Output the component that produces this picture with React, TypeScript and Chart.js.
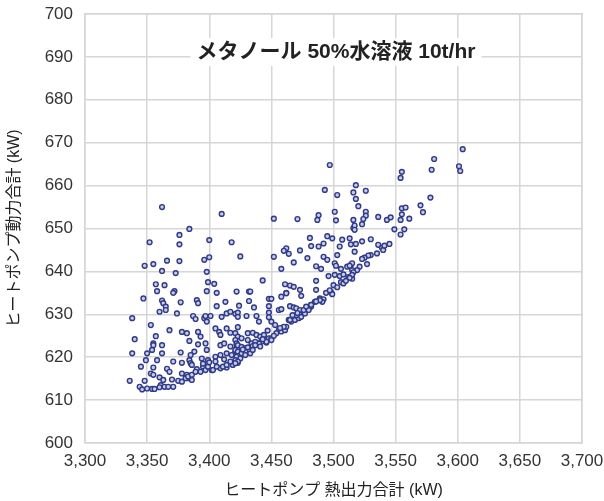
import React, { useEffect, useRef } from "react";
import { Chart, registerables } from "chart.js";

Chart.register(...registerables);

const CHART_TITLE = "メタノール 50%水溶液 10t/hr";
const X_TITLE = "ヒートポンプ 熱出力合計 (kW)";
const Y_TITLE = "ヒートポンプ動力合計 (kW)";
const X_RANGE = [3300, 3700, 50];
const Y_RANGE = [600, 700, 10];

// [heat output kW, pump power kW]
const UPPER_SCATTER: [number, number][] = [
  [3362, 655.0], [3410, 653.4], [3384, 649.9], [3376, 648.5], [3352, 646.8], [3400, 647.3],
  [3418, 646.8], [3376, 646.3], [3366, 642.5], [3376, 642.4], [3396, 642.7], [3400, 643.3],
  [3355, 641.7], [3348, 641.3], [3362, 640.1], [3373, 639.6], [3398, 639.9], [3357, 637.0],
  [3364, 636.8], [3399, 637.5], [3404, 637.1], [3358, 635.4], [3372, 635.4], [3371, 635.0],
  [3398, 635.4], [3406, 635.0], [3422, 635.3], [3425, 643.5],
  [3452, 652.3], [3471, 652.2], [3488, 653.1], [3487, 652.0], [3501, 653.9], [3502, 651.9],
  [3503, 657.8], [3516, 652.0], [3516, 650.1], [3481, 647.8], [3495, 648.2], [3499, 647.7],
  [3507, 647.4], [3513, 647.7], [3514, 646.3], [3482, 645.9], [3488, 645.8], [3492, 646.5],
  [3505, 645.8], [3462, 645.4], [3460, 644.8], [3473, 644.9], [3464, 644.1], [3452, 643.4],
  [3479, 643.1], [3492, 643.4], [3495, 642.7], [3503, 643.8], [3468, 642.1], [3486, 641.2],
  [3490, 640.6], [3501, 641.9], [3502, 641.3], [3506, 640.6], [3511, 641.1], [3514, 641.5],
  [3515, 640.3], [3458, 640.6], [3496, 638.9], [3501, 639.2], [3505, 638.9], [3508, 639.3],
  [3512, 638.7], [3515, 638.3], [3443, 637.9], [3461, 637.0], [3465, 636.7], [3468, 636.4],
  [3486, 637.8], [3500, 636.8], [3506, 637.5], [3473, 635.7], [3462, 635.0], [3486, 635.7],
  [3498, 635.1], [3432, 635.3], [3497, 664.8], [3493, 659.0],
];

const RIGHT_SCATTER: [number, number][] = [
  [3604, 668.5], [3581, 666.2], [3579, 663.7], [3601, 664.5], [3602, 663.4], [3555, 663.2],
  [3554, 661.8], [3518, 660.1], [3516, 658.4], [3526, 658.8], [3518, 656.9], [3520, 655.2],
  [3578, 657.2], [3570, 655.4], [3572, 653.8], [3555, 654.7], [3558, 654.9], [3526, 653.9],
  [3526, 653.0], [3524, 652.2], [3555, 653.3], [3536, 652.7], [3543, 652.0], [3546, 652.6],
  [3554, 652.0], [3561, 652.3], [3523, 651.0], [3517, 650.7], [3517, 649.7], [3557, 649.8],
  [3549, 649.8], [3554, 648.6], [3530, 647.5], [3523, 647.0], [3518, 646.4], [3517, 644.6],
  [3536, 646.2], [3539, 645.5], [3540, 645.0], [3541, 646.0], [3545, 646.4], [3535, 644.2],
  [3530, 643.8], [3528, 643.7], [3525, 643.2], [3523, 642.9], [3527, 641.7], [3521, 641.1],
  [3519, 640.3], [3516, 639.8], [3515, 639.2], [3513, 638.5], [3515, 641.9], [3513, 641.3],
];

const LOWER_LEFT: [number, number][] = [
  [3347, 633.7], [3362, 633.2], [3363, 632.6], [3377, 632.8], [3390, 633.3], [3391, 632.6],
  [3406, 631.9], [3413, 632.9], [3365, 631.8], [3365, 631.0], [3360, 630.6], [3374, 630.2],
  [3387, 629.6], [3389, 628.9], [3396, 629.1], [3397, 629.6], [3398, 628.3], [3401, 629.6],
  [3410, 629.4], [3414, 630.2], [3417, 630.6], [3421, 630.1], [3423, 630.4], [3338, 629.1],
  [3353, 627.5], [3368, 626.3], [3378, 625.9], [3382, 625.6], [3391, 625.9], [3393, 624.8],
  [3405, 626.7], [3408, 625.9], [3409, 625.2], [3414, 626.7], [3417, 625.7], [3421, 625.6],
  [3423, 624.8], [3357, 624.9], [3340, 624.2], [3384, 623.8], [3355, 623.2], [3355, 622.8],
  [3362, 622.8], [3391, 623.0], [3397, 623.2], [3398, 621.7], [3409, 622.8], [3412, 623.2],
  [3417, 622.5], [3422, 622.8], [3354, 621.7], [3338, 620.9], [3350, 620.9], [3362, 620.9],
  [3377, 621.1], [3388, 621.3], [3405, 620.1], [3409, 620.5], [3414, 620.9], [3421, 621.3],
  [3385, 620.5], [3384, 619.3], [3385, 618.6], [3358, 619.3], [3349, 619.3], [3371, 619.0],
  [3378, 618.7], [3394, 619.7], [3399, 619.3], [3405, 619.0], [3345, 617.8], [3355, 617.6],
  [3366, 617.3], [3368, 616.6], [3386, 618.2], [3390, 617.2], [3395, 617.8], [3402, 617.0],
  [3409, 617.4], [3414, 617.6], [3419, 618.2], [3423, 618.7], [3353, 616.2], [3355, 615.9],
  [3378, 616.2], [3382, 615.9], [3383, 615.1], [3386, 614.7], [3336, 614.5], [3348, 614.5],
  [3360, 615.3], [3363, 614.7], [3361, 613.5], [3370, 614.8], [3375, 614.5], [3344, 613.1],
  [3346, 612.5], [3350, 612.7], [3354, 612.6], [3356, 612.6], [3360, 613.0], [3364, 613.1],
  [3367, 613.1], [3371, 613.1],
];

const LOWER_MID: [number, number][] = [
  [3433, 635.3], [3448, 633.6], [3450, 633.6], [3458, 634.1], [3462, 634.9], [3474, 634.3],
  [3489, 633.7], [3492, 633.5], [3491, 632.9], [3499, 634.7], [3432, 633.1], [3485, 632.9],
  [3482, 632.2], [3424, 632.0], [3436, 631.6], [3448, 631.9], [3448, 630.4], [3448, 629.3],
  [3456, 631.0], [3458, 631.2], [3465, 631.9], [3468, 631.6], [3470, 631.4], [3473, 631.0],
  [3476, 630.6], [3479, 631.0], [3480, 631.4], [3482, 631.8], [3464, 628.7], [3466, 628.3],
  [3469, 628.7], [3472, 629.1], [3474, 629.4], [3477, 630.2], [3480, 631.0], [3423, 629.4],
  [3430, 629.6], [3438, 629.6], [3440, 628.3], [3450, 628.3], [3453, 627.5], [3456, 626.3],
  [3458, 626.0], [3461, 626.3], [3462, 627.1], [3447, 626.2], [3423, 627.0], [3431, 625.6],
  [3435, 625.7], [3438, 625.2], [3441, 624.8], [3444, 625.2], [3445, 624.0], [3446, 623.4],
  [3448, 624.4], [3450, 624.4], [3442, 623.6], [3440, 623.2], [3426, 624.4], [3431, 624.0],
  [3434, 623.2], [3437, 623.6], [3421, 624.0], [3422, 623.2], [3423, 622.8], [3426, 622.4],
  [3429, 622.1], [3431, 622.3], [3435, 622.6], [3421, 621.7], [3423, 621.3], [3426, 620.9],
  [3429, 621.3], [3422, 620.1], [3425, 619.7], [3421, 619.3], [3423, 619.0], [3421, 618.6],
];

const LOWER_EDGE: [number, number][] = [
  [3378, 614.3], [3381, 615.1], [3383, 615.5], [3386, 615.9], [3389, 616.6], [3393, 616.6],
  [3397, 617.0], [3399, 617.8], [3403, 617.0], [3406, 617.8], [3411, 617.8], [3414, 618.2],
  [3417, 619.0], [3429, 620.5], [3433, 620.9], [3435, 621.7], [3441, 622.5], [3446, 623.6],
  [3450, 624.0], [3454, 625.6], [3460, 627.1], [3465, 628.7], [3470, 629.8], [3476, 631.0],
  [3482, 632.2], [3489, 633.3], [3395, 618.5], [3400, 618.8], [3412, 619.5], [3418, 620.5],
  [3427, 621.8], [3437, 622.8], [3443, 624.2], [3452, 625.0], [3457, 626.8], [3467, 629.8],
  [3471, 630.3], [3478, 631.8], [3486, 633.0], [3494, 635.0], [3497, 635.6], [3503, 636.3],
  [3508, 637.2], [3510, 637.8],
];

const ALL_SAMPLES = [...UPPER_SCATTER, ...RIGHT_SCATTER, ...LOWER_LEFT, ...LOWER_MID, ...LOWER_EDGE];

const FONT = "'Liberation Sans', 'Noto Sans CJK JP', sans-serif";

const titlePlugin = {
  id: "innerTitle",
  afterDatasetsDraw(chart: any) {
    const { ctx } = chart;
    ctx.save();
    ctx.font = `bold 21px ${FONT}`;
    const w = ctx.measureText(CHART_TITLE).width;
    const cx = 336;
    const cy = 52;
    ctx.fillStyle = "#ffffff";
    ctx.fillRect(cx - w / 2 - 6, cy - 14, w + 12, 28);
    ctx.fillStyle = "#222222";
    ctx.textAlign = "center";
    ctx.textBaseline = "middle";
    ctx.fillText(CHART_TITLE, cx, cy);
    ctx.restore();
  },
};

const zeroPad = (s: any) => {
  s.paddingTop = 0;
  s.paddingBottom = 0;
  s.paddingLeft = 0;
  s.paddingRight = 0;
};

export default function App() {
  const ref = useRef<HTMLCanvasElement>(null);
  useEffect(() => {
    if (!ref.current) return;
    const chart = new Chart(ref.current, {
      type: "scatter",
      data: {
        datasets: [
          {
            data: ALL_SAMPLES.map(([x, y]) => ({ x, y })),
            pointRadius: 2.4,
            pointBorderWidth: 1.4,
            borderColor: "#2f3a88",
            backgroundColor: "#c8cce6",
          },
        ],
      },
      options: {
        animation: false,
        responsive: false,
        layout: { padding: { left: 0, right: 22, top: 14, bottom: 0 } },
        plugins: { legend: { display: false }, tooltip: { enabled: false } },
        scales: {
          x: {
            type: "linear",
            min: X_RANGE[0],
            max: X_RANGE[1],
            afterFit: (s: any) => { s.height = 58; zeroPad(s); },
            ticks: {
              stepSize: X_RANGE[2],
              padding: 8,
              color: "#333333",
              font: { family: FONT, size: 17 },
              callback: (v: any) => Number(v).toLocaleString("en-US"),
            },
            grid: { color: "#d6d6d6", lineWidth: 1.5, drawTicks: false },
            border: { color: "#d6d6d6", width: 1.5 },
            title: {
              display: true,
              text: X_TITLE,
              color: "#222222",
              font: { family: FONT, size: 16 },
              padding: { top: 0, bottom: 1 },
            },
          },
          y: {
            type: "linear",
            min: Y_RANGE[0],
            max: Y_RANGE[1],
            afterFit: (s: any) => { s.width = 85; zeroPad(s); },
            ticks: {
              stepSize: Y_RANGE[2],
              padding: 12,
              color: "#333333",
              font: { family: FONT, size: 17 },
            },
            grid: { color: "#d6d6d6", lineWidth: 1.5, drawTicks: false },
            border: { color: "#d6d6d6", width: 1.5 },
            title: {
              display: true,
              text: Y_TITLE,
              color: "#222222",
              font: { family: FONT, size: 16 },
              padding: { top: 5, bottom: 0 },
            },
          },
          x2: {
            type: "linear",
            position: "top",
            min: X_RANGE[0],
            max: X_RANGE[1],
            display: true,
            afterFit: (s: any) => { s.height = 0; zeroPad(s); },
            ticks: { display: false },
            grid: { display: false, drawTicks: false },
            border: { color: "#d6d6d6", width: 1.5 },
          },
          y2: {
            type: "linear",
            position: "right",
            min: Y_RANGE[0],
            max: Y_RANGE[1],
            display: true,
            afterFit: (s: any) => { s.width = 0; zeroPad(s); },
            ticks: { display: false },
            grid: { display: false, drawTicks: false },
            border: { color: "#d6d6d6", width: 1.5 },
          },
        },
      } as any,
      plugins: [titlePlugin],
    });
    return () => chart.destroy();
  }, []);
  return (
    <div style={{ position: "fixed", left: 0, top: 0, width: 604, height: 501, background: "#fff" }}>
      <canvas ref={ref} width={604} height={501} style={{ display: "block" }} />
    </div>
  );
}
